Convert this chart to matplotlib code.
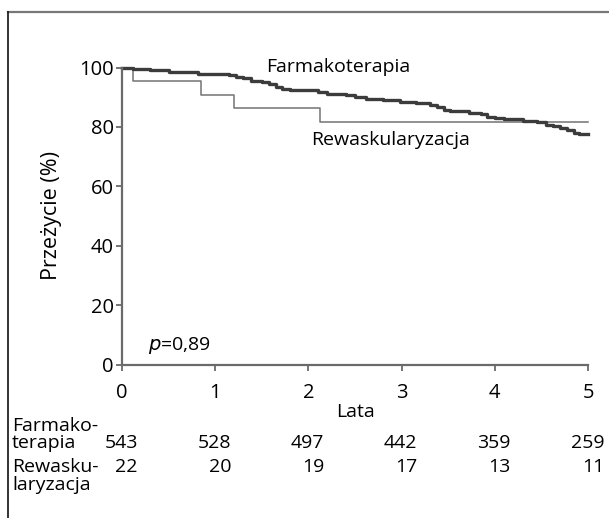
import matplotlib
matplotlib.use("Agg")
import matplotlib.pyplot as plt
import matplotlib.transforms as mtransforms
from matplotlib.lines import Line2D

plt.rcParams["font.family"] = ["Open Sans", "DejaVu Sans"]

# ─── Data ───────────────────────────────────────────────────────────────────

years = [0, 1, 2, 3, 4, 5]

# Farmakoterapia: step times (years) and survival (%) after each step
farma_t = [0.0, 0.12, 0.30, 0.50, 0.82, 1.15, 1.22, 1.30, 1.38, 1.50, 1.58,
           1.65, 1.72, 1.80, 2.10, 2.20, 2.40, 2.50, 2.62, 2.80, 2.98, 3.15,
           3.30, 3.38, 3.45, 3.52, 3.72, 3.85, 3.92, 4.00, 4.10, 4.30, 4.45,
           4.55, 4.62, 4.70, 4.78, 4.85, 4.90, 5.00]
farma_s = [100.0, 99.6, 99.2, 98.6, 97.8, 97.4, 96.9, 96.3, 95.6, 95.1, 94.6,
           93.6, 92.9, 92.4, 91.8, 91.1, 90.6, 90.1, 89.4, 89.0, 88.5, 88.0,
           87.4, 86.6, 85.8, 85.2, 84.8, 84.2, 83.5, 82.9, 82.5, 82.1, 81.6,
           80.8, 80.2, 79.5, 78.8, 78.0, 77.5, 77.5]

# Rewaskularyzacja
rewask_t = [0.0, 0.12, 0.85, 1.20, 2.12, 5.00]
rewask_s = [100.0, 95.5, 90.9, 86.4, 81.8, 81.8]

# numbers at risk
farma_risk = [543, 528, 497, 442, 359, 259]
rewask_risk = [22, 20, 19, 17, 13, 11]

W, H = 609, 518
SPINE = "#6a6a6a"
FS = 14


def fy(px):
    """Figure fraction from a pixel row counted from the top."""
    return 1 - px / H


fig = plt.figure(figsize=(W / 100, H / 100), dpi=100)
ax = fig.add_axes([122 / W, fy(364.5), 466 / W, 297 / H])

ax.step(rewask_t, rewask_s, where="post", color="#737373", lw=1.1, clip_on=False)
ax.step(farma_t, farma_s, where="post", color="#3c3c3c", lw=2.4, clip_on=False)

ax.set_xlim(0, 5)
ax.set_ylim(0, 100)
ax.set_xticks(years)
ax.set_yticks([0, 20, 40, 60, 80, 100])
ax.tick_params(direction="out", length=4, width=1.3, color=SPINE,
               labelsize=14.5)
ax.tick_params(axis="x", pad=9)
ax.tick_params(axis="y", pad=2)
for side in ("top", "right"):
    ax.spines[side].set_visible(False)
for side in ("left", "bottom"):
    ax.spines[side].set_color(SPINE)
    ax.spines[side].set_linewidth(1.6)

ax.set_ylabel("Przeżycie (%)", fontsize=15.5, labelpad=12)

fig.text(338 / W, fy(67), "Farmakoterapia", fontsize=FS,
         ha="center", va="center")
fig.text(391 / W, fy(140), "Rewaskularyzacja", fontsize=FS,
         ha="center", va="center")
fig.text(148 / W, fy(345), r"$p$=0,89", fontsize=FS, ha="left",
         va="center", math_fontfamily="dejavusans")

fig.text(355 / W, fy(412), "Lata", fontsize=FS, ha="center", va="center")

# ─── Numbers at risk ────────────────────────────────────────────────────────
trans = mtransforms.blended_transform_factory(ax.transData, fig.transFigure)
shift = mtransforms.ScaledTranslation(16 / 100, 0, fig.dpi_scale_trans)
row_base = [fy(448), fy(472)]
for y, counts in zip(row_base, [farma_risk, rewask_risk]):
    for t, n in zip(years, counts):
        ax.text(t, y, str(n), transform=trans + shift, fontsize=FS,
                ha="right", va="baseline", clip_on=False)

for label, ypx in [("Farmako-", 431), ("terapia", 448),
                   ("Rewasku-", 472), ("laryzacja", 490)]:
    fig.text(12 / W, fy(ypx), label, fontsize=FS, ha="left", va="baseline")

# ─── Outer frame (top and left) ─────────────────────────────────────────────
fig.add_artist(Line2D([8 / W, 1], [fy(12), fy(12)],
                      transform=fig.transFigure, color="#777777", lw=1.6))
fig.add_artist(Line2D([8 / W, 8 / W], [fy(12), 0],
                      transform=fig.transFigure, color="#111111", lw=1.2))

fig.savefig("out.png", dpi=100)
